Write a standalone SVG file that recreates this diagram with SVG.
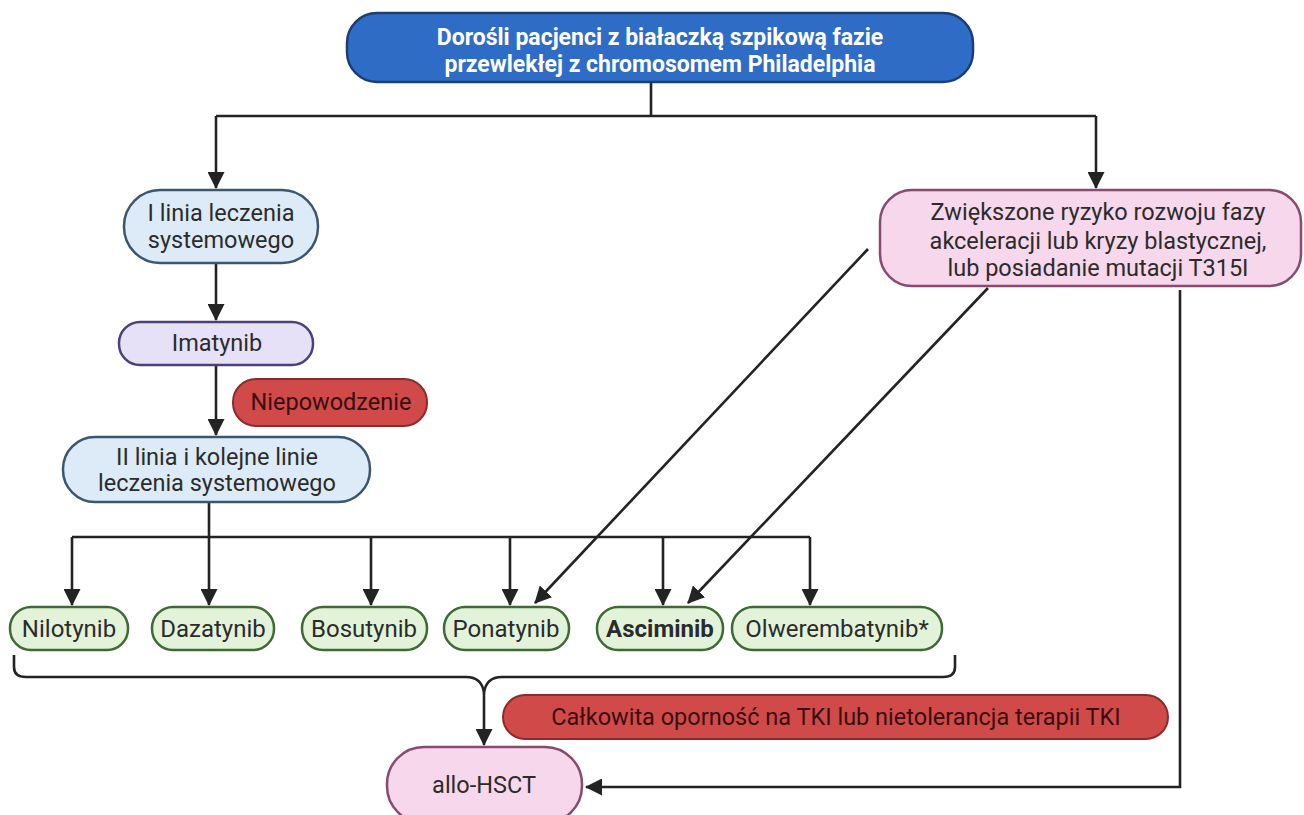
<svg xmlns="http://www.w3.org/2000/svg" width="1304" height="815" viewBox="0 0 1304 815">
<defs>
<marker id="ah" markerUnits="userSpaceOnUse" markerWidth="17" markerHeight="17" viewBox="0 0 17 17" refX="16" refY="8.5" orient="auto">
<path d="M0,0 L17,8.5 L0,17 Z" fill="#232323"/>
</marker>
<style>
text{font-family:Roboto,"Liberation Sans",sans-serif;text-anchor:middle;dominant-baseline:central}
.c{fill:none;stroke:#232323;stroke-width:2.6}
.top{fill:#2f6cc6;stroke:#1c3d78;stroke-width:2.5}
.top-t{fill:#ffffff;font-weight:bold;font-size:23px}
.blue{fill:#ddebf8;stroke:#3b5670;stroke-width:2.5}
.purple{fill:#e7e1f8;stroke:#4b3f7c;stroke-width:2.5}
.red{fill:#d04a4a;stroke:#8c2b2b;stroke-width:2}
.red-t{fill:#3a0e0e;font-size:23.5px}
.pink{fill:#f7d7ec;stroke:#8a4a70;stroke-width:2.5}
.green{fill:#e3f3d9;stroke:#3f6a36;stroke-width:2.5}
.t{fill:#2b2b2b;font-size:23.5px}
.g{fill:#2b2b2b;font-size:24px}
</style>
</defs>
<g id="connectors">
<path class="c" d="M651,82 V116"/>
<path class="c" d="M216,116 H1096"/>
<path class="c" d="M216,116 V188" marker-end="url(#ah)"/>
<path class="c" d="M1096,116 V188" marker-end="url(#ah)"/>
<path class="c" d="M216,263 V320" marker-end="url(#ah)"/>
<path class="c" d="M216,365 V435" marker-end="url(#ah)"/>
<path class="c" d="M209,502 V537"/>
<path class="c" d="M72,537 H810"/>
<path class="c" d="M72,537 V605" marker-end="url(#ah)"/>
<path class="c" d="M209,537 V605" marker-end="url(#ah)"/>
<path class="c" d="M371,537 V605" marker-end="url(#ah)"/>
<path class="c" d="M510,537 V605" marker-end="url(#ah)"/>
<path class="c" d="M663,537 V605" marker-end="url(#ah)"/>
<path class="c" d="M810,537 V605" marker-end="url(#ah)"/>
<path class="c" d="M868,249 L535,603" marker-end="url(#ah)"/>
<path class="c" d="M988,288 L688,603" marker-end="url(#ah)"/>
<path class="c" d="M14,655 V667 Q14,677 26,677 H466 Q482,677 484,693 Q486,677 502,677 H943 Q955,677 955,667 V655"/>
<path class="c" d="M484,693 V745" marker-end="url(#ah)"/>
<path class="c" d="M1180,290 V787 H586" marker-end="url(#ah)"/>
</g>
<g id="node-top">
<rect class="top" x="347" y="13" width="626" height="69" rx="30"/>
<text class="top-t" x="660" y="37">Dorośli pacjenci z białaczką szpikową fazie</text>
<text class="top-t" x="660" y="64">przewlekłej z chromosomem Philadelphia</text>
</g>
<g id="node-first-line">
<rect class="blue" x="124" y="190" width="194" height="73" rx="36"/>
<text class="t" x="221" y="213">I linia leczenia</text>
<text class="t" x="221" y="240">systemowego</text>
</g>
<g id="node-imatynib">
<rect class="purple" x="119" y="322" width="194" height="43" rx="21"/>
<text class="t" x="217" y="343">Imatynib</text>
</g>
<g id="node-niepowodzenie">
<rect class="red" x="233" y="379" width="194" height="47" rx="23"/>
<text class="red-t" x="331" y="402">Niepowodzenie</text>
</g>
<g id="node-second-line">
<rect class="blue" x="63" y="437" width="307" height="65" rx="32"/>
<text class="t" x="217" y="457">II linia i kolejne linie</text>
<text class="t" x="217" y="483">leczenia systemowego</text>
</g>
<g id="node-risk">
<rect class="pink" x="880" y="190" width="421" height="96" rx="32"/>
<text class="t" x="1098" y="212">Zwiększone ryzyko rozwoju fazy</text>
<text class="t" x="1098" y="241">akceleracji lub kryzy blastycznej,</text>
<text class="t" x="1098" y="268">lub posiadanie mutacji T315I</text>
</g>
<g id="node-nilotynib">
<rect class="green" x="10" y="607" width="118" height="43" rx="21"/>
<text class="g" x="69" y="629">Nilotynib</text>
</g>
<g id="node-dazatynib">
<rect class="green" x="152" y="607" width="122" height="43" rx="21"/>
<text class="g" x="213" y="629">Dazatynib</text>
</g>
<g id="node-bosutynib">
<rect class="green" x="302" y="607" width="125" height="43" rx="21"/>
<text class="g" x="364" y="629">Bosutynib</text>
</g>
<g id="node-ponatynib">
<rect class="green" x="444" y="607" width="125" height="43" rx="21"/>
<text class="g" x="506" y="629">Ponatynib</text>
</g>
<g id="node-asciminib">
<rect class="green" x="597" y="607" width="126" height="43" rx="21"/>
<text class="g" x="660" y="629" font-weight="bold">Asciminib</text>
</g>
<g id="node-olwerembatynib">
<rect class="green" x="732" y="607" width="210" height="43" rx="21"/>
<text class="g" x="837" y="629">Olwerembatynib*</text>
</g>
<g id="node-resistance">
<rect class="red" x="503" y="695" width="665" height="44" rx="22"/>
<text class="red-t" x="836" y="717">Całkowita oporność na TKI lub nietolerancja terapii TKI</text>
</g>
<g id="node-allo-hsct">
<rect class="pink" x="387" y="747" width="195" height="76" rx="37"/>
<text class="t" x="484" y="785">allo-HSCT</text>
</g>
</svg>
